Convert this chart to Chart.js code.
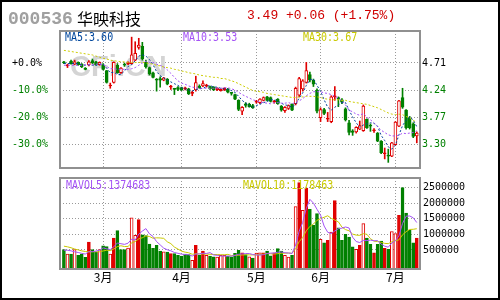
<!DOCTYPE html>
<html>
<head>
<meta charset="utf-8">
<title>000536 华映科技</title>
<script src="https://cdn.jsdelivr.net/npm/chart.js@4.4.1/dist/chart.umd.min.js"></script>
<style>
  html, body { margin: 0; padding: 0; background: #fff; }
  #box { position: relative; width: 500px; height: 300px; overflow: hidden; background: #fff; }
  #box canvas { position: absolute; left: 0; top: 0; }
  #edge { position: absolute; left: 0; top: 0; width: 496px; height: 296px; border: 2px solid #000; }
  .txt { position: absolute; white-space: nowrap; line-height: 1; }
  .lbl { font-family: "DejaVu Sans Mono", monospace; font-size: 10px; transform: scaleY(1.15); transform-origin: 0 0; }
</style>
</head>
<body>
<div id="box">
  <canvas id="kline" width="500" height="300"></canvas>
  <canvas id="vol" width="500" height="300"></canvas>
  <div class="txt" style="left:8px;top:9px;font:bold 18px 'Liberation Mono',monospace;color:#a0a0a0">000536</div>
  <div class="txt" style="left:77px;top:6px;font:16px 'Noto Sans CJK SC',sans-serif;color:#000">华映科技</div>
  <div class="txt" style="left:247px;top:8px;font:13px 'Liberation Mono',monospace;color:#d00000">3.49 +0.06 (+1.75%)</div>
  <div class="txt lbl" style="left:65px;top:32px;color:#00479d">MA5:3.60</div>
  <div class="txt lbl" style="left:183px;top:32px;color:#a452f5">MA10:3.53</div>
  <div class="txt lbl" style="left:303px;top:32px;color:#c9c900">MA30:3.67</div>
  <div class="txt lbl" style="left:66px;top:180px;color:#a452f5">MAVOL5:1374683</div>
  <div class="txt lbl" style="left:243px;top:180px;color:#c9c900">MAVOL10:1178463</div>
  <div id="edge"></div>
</div>
<script>
// month starts (trading day index) and their labels
const monthTicks = [11, 33, 54, 72, 93];
const monthLabels = ["3月", "4月", "5月", "6月", "7月"];

// daily prices
const opens = [4.73,4.66,4.74,4.69,4.72,4.69,4.62,4.68,4.75,4.73,
  4.68,4.68,4.58,4.31,4.37,4.67,4.54,4.68,4.70,4.70,
  4.76,4.98,5.00,4.72,4.63,4.54,4.42,4.44,4.41,4.43,
  4.29,4.26,4.28,4.28,4.26,4.26,4.18,4.24,4.31,4.31,
  4.31,4.30,4.29,4.24,4.23,4.24,4.25,4.19,4.16,4.06,
  3.87,4.00,3.99,3.97,4.03,4.02,4.06,4.12,4.11,4.03,
  4.08,3.96,3.88,3.92,3.99,4.00,4.15,4.26,4.37,4.51,
  4.41,4.24,3.76,3.90,3.73,3.69,4.12,4.11,4.07,3.91,
  3.67,3.53,3.51,3.56,3.53,3.73,3.63,3.53,3.49,3.35,
  3.13,3.10,3.09,3.29,3.61,4.11,3.89,3.75,3.65,3.44];
const highs = [4.74,4.69,4.76,4.76,4.73,4.70,4.63,4.75,4.78,4.74,
  4.73,4.70,4.58,4.36,4.73,4.70,4.63,4.71,4.73,5.16,
  5.08,5.14,5.07,4.76,4.64,4.55,4.44,4.47,4.46,4.44,
  4.32,4.27,4.30,4.29,4.29,4.27,4.22,4.48,4.33,4.40,
  4.34,4.31,4.30,4.28,4.26,4.28,4.27,4.20,4.17,4.07,
  3.95,4.02,4.01,3.99,4.06,4.09,4.12,4.13,4.12,4.06,
  4.09,3.97,3.95,3.98,4.00,4.29,4.46,4.42,4.72,4.55,
  4.43,4.26,3.93,3.92,3.85,4.14,4.30,4.12,4.09,3.93,
  3.71,3.55,3.60,3.70,3.98,3.74,3.65,3.57,3.50,3.36,
  3.23,3.21,3.33,3.69,4.06,4.27,3.90,3.78,3.67,3.51];
const lows = [4.70,4.63,4.69,4.68,4.67,4.63,4.59,4.66,4.70,4.67,
  4.67,4.59,4.36,4.27,4.36,4.53,4.53,4.65,4.68,4.69,
  4.75,4.95,4.76,4.62,4.50,4.45,4.22,4.29,4.40,4.33,
  4.25,4.16,4.23,4.23,4.24,4.16,4.14,4.22,4.27,4.30,
  4.29,4.25,4.23,4.23,4.22,4.23,4.19,4.15,4.07,3.88,
  3.81,3.94,3.94,3.92,4.01,4.00,4.05,4.05,4.03,4.01,
  3.99,3.87,3.85,3.90,3.88,3.98,4.12,4.22,4.36,4.38,
  4.30,3.84,3.69,3.81,3.69,3.67,4.06,3.95,4.00,3.70,
  3.46,3.45,3.49,3.55,3.52,3.57,3.52,3.50,3.34,3.13,
  3.04,2.98,3.08,3.28,3.60,3.92,3.56,3.56,3.41,3.32];
const closes = [4.71,4.67,4.70,4.73,4.68,4.64,4.60,4.73,4.71,4.68,
  4.72,4.60,4.37,4.32,4.72,4.54,4.62,4.67,4.71,4.85,
  4.88,5.02,4.78,4.64,4.52,4.46,4.41,4.41,4.45,4.34,
  4.30,4.25,4.25,4.24,4.27,4.17,4.19,4.37,4.28,4.35,
  4.32,4.26,4.24,4.27,4.25,4.27,4.20,4.18,4.08,3.90,
  3.94,3.97,3.95,3.93,4.04,4.08,4.11,4.06,4.04,4.04,
  4.00,3.89,3.94,3.97,3.89,4.27,4.44,4.40,4.58,4.41,
  4.34,3.87,3.90,3.83,3.74,4.12,4.13,4.08,4.03,3.72,
  3.50,3.50,3.59,3.62,3.96,3.58,3.61,3.54,3.35,3.15,
  3.14,3.09,3.32,3.68,4.05,3.94,3.58,3.58,3.43,3.49];

// moving averages as drawn
const ma5 = [4.70,4.70,4.70,4.70,4.70,4.68,4.67,4.68,4.67,4.67,
  4.69,4.69,4.62,4.54,4.55,4.51,4.51,4.57,4.65,4.68,
  4.75,4.83,4.85,4.83,4.77,4.68,4.56,4.49,4.45,4.41,
  4.38,4.35,4.32,4.28,4.26,4.24,4.22,4.25,4.26,4.27,
  4.30,4.32,4.29,4.29,4.27,4.26,4.25,4.23,4.20,4.13,
  4.06,4.01,3.97,3.94,3.97,3.99,4.02,4.04,4.07,4.07,
  4.05,4.01,3.98,3.97,3.94,3.99,4.10,4.19,4.32,4.42,
  4.43,4.32,4.22,4.07,3.94,3.89,3.94,3.98,4.02,4.02,
  3.89,3.77,3.67,3.59,3.63,3.65,3.67,3.66,3.61,3.45,
  3.36,3.25,3.21,3.28,3.46,3.62,3.71,3.77,3.72,3.60];
const ma10 = [4.67,4.67,4.67,4.67,4.67,4.67,4.68,4.68,4.68,4.69,
  4.69,4.68,4.65,4.61,4.61,4.60,4.60,4.60,4.60,4.61,
  4.63,4.67,4.71,4.74,4.72,4.72,4.69,4.67,4.64,4.59,
  4.53,4.46,4.40,4.36,4.34,4.31,4.29,4.28,4.27,4.27,
  4.27,4.27,4.27,4.27,4.27,4.28,4.28,4.26,4.24,4.20,
  4.16,4.13,4.10,4.07,4.05,4.03,4.02,4.01,4.00,4.02,
  4.02,4.01,4.01,4.02,4.00,4.02,4.05,4.09,4.14,4.18,
  4.21,4.21,4.21,4.19,4.18,4.16,4.13,4.10,4.05,3.98,
  3.89,3.86,3.82,3.80,3.83,3.77,3.72,3.67,3.60,3.54,
  3.50,3.46,3.44,3.44,3.45,3.49,3.48,3.49,3.50,3.53];
const ma30 = [4.93,4.92,4.91,4.90,4.89,4.88,4.87,4.86,4.85,4.83,
  4.81,4.79,4.78,4.76,4.75,4.74,4.73,4.73,4.72,4.72,
  4.72,4.72,4.72,4.71,4.70,4.69,4.67,4.66,4.64,4.63,
  4.62,4.60,4.59,4.57,4.56,4.54,4.53,4.52,4.50,4.49,
  4.48,4.47,4.46,4.46,4.44,4.44,4.42,4.40,4.38,4.35,
  4.32,4.29,4.26,4.23,4.22,4.21,4.20,4.18,4.17,4.16,
  4.15,4.14,4.13,4.12,4.11,4.11,4.12,4.12,4.13,4.13,
  4.13,4.12,4.11,4.09,4.08,4.07,4.07,4.07,4.06,4.06,
  4.04,4.03,4.02,4.01,4.00,3.99,3.97,3.95,3.93,3.90,
  3.87,3.84,3.82,3.81,3.82,3.81,3.78,3.75,3.71,3.68];

// volume (shares) and bar kind: g = down, r = up hollow, R = up filled
const volumes = [510000,370000,370000,510000,330000,370000,260000,750000,510000,430000,
  510000,630000,610000,370000,880000,1120000,510000,510000,560000,1530000,
  970000,1470000,980000,960000,690000,550000,650000,460000,440000,430000,
  380000,380000,330000,300000,370000,350000,170000,650000,330000,460000,
  330000,300000,280000,270000,330000,330000,300000,280000,390000,490000,
  410000,350000,280000,240000,400000,410000,410000,460000,310000,410000,
  540000,460000,330000,270000,330000,1890000,2650000,1770000,2480000,1800000,
  1290000,1660000,840000,730000,810000,1070000,2080000,1210000,810000,1000000,
  910000,600000,520000,650000,1340000,880000,680000,410000,680000,780000,
  550000,520000,1090000,1020000,1610000,2490000,1680000,1130000,730000,880000];
const volKind = ("grgrgggRgg" + "rggrRgggrr" + "rRggggggrg" + "RgggggrRgR" + "rggrrrgggg" +
  "RgrgrrRggR" + "ggrrgrRrRg" + "ggrgRrRggg" + "ggrRrggRgg" + "RgrrRggggR").split("");
const mavol5 = [490000,490000,470000,440000,418000,390000,368000,444000,444000,464000,
  492000,566000,538000,510000,600000,722000,698000,678000,716000,846000,
  816000,1008000,1102000,1182000,1014000,930000,766000,662000,558000,506000,
  472000,418000,392000,364000,352000,346000,304000,368000,374000,392000,
  388000,414000,340000,328000,302000,302000,302000,302000,326000,358000,
  374000,384000,384000,354000,336000,336000,348000,384000,398000,400000,
  426000,436000,410000,402000,386000,656000,1094000,1382000,1824000,2118000,
  1998000,1800000,1614000,1264000,1066000,1022000,1106000,1180000,1196000,1234000,
  1202000,906000,768000,736000,804000,798000,814000,792000,798000,686000,
  620000,588000,724000,792000,958000,1346000,1578000,1586000,1528000,1375000];
const mavol10 = [620000,600000,570000,530000,500000,470000,450000,440000,440000,441000,
  441000,467000,491000,477000,532000,607000,632000,608000,613000,723000,
  769000,853000,890000,949000,930000,873000,887000,882000,870000,760000,
  701000,592000,527000,461000,429000,409000,361000,380000,369000,372000,
  367000,359000,354000,351000,347000,345000,358000,321000,327000,330000,
  338000,343000,343000,340000,347000,355000,366000,384000,376000,368000,
  381000,392000,397000,400000,393000,541000,765000,896000,1113000,1252000,
  1327000,1447000,1498000,1544000,1592000,1510000,1453000,1397000,1230000,1150000,
  1112000,1006000,974000,966000,1019000,1000000,860000,780000,767000,745000,
  709000,701000,758000,795000,822000,983000,1083000,1155000,1160000,1178000];

// axis ticks
const priceTicks = [4.71, 4.239, 3.768, 3.297];
const pctTicks = [0, -10, -20, -30];
const volTicks = [500000, 1000000, 1500000, 2000000, 2500000];

const BASE = 4.71;          // first close = 0%
const P_MIN = 2.882, P_MAX = 5.267;
const V_MIN = -110000, V_MAX = 2800000;

const RED = "#e00000", GREEN = "#008000", GRID = "#999";
const tickFont = { family: "'DejaVu Sans Mono', monospace", size: 10 };

const pts = arr => arr.map((v, i) => ({ x: i, y: v }));

const wickColor = closes.map((c, i) => c > opens[i] ? RED : GREEN);
const bodyFill = closes.map((c, i) => c > opens[i] ? (c - opens[i] < 0.03 ? RED : "#fff") : GREEN);
const volFill = volKind.map(k => k === "g" ? GREEN : (k === "R" ? RED : "#fff"));
const volEdge = volKind.map(k => k === "g" ? GREEN : RED);

const frame = {
  id: "frame",
  afterDraw(chart) {
    const { left, top, right, bottom } = chart.chartArea;
    const c = chart.ctx;
    c.save();
    c.strokeStyle = "#909090";
    c.lineWidth = 2;
    c.strokeRect(left, top, right - left, bottom - top);
    c.restore();
  }
};

const watermark = {
  id: "watermark",
  beforeDatasetsDraw(chart) {
    const c = chart.ctx;
    c.save();
    c.font = "bold 29px 'Liberation Sans', Arial, sans-serif";
    c.fillStyle = "#d4d4d4";
    c.fillText("CFi.CN", 70, 76);
    c.restore();
  }
};

function monthAxis(showLabels) {
  return {
    type: "linear", min: -1.1, max: 99.9, offset: false,
    grid: { color: GRID, drawTicks: false, offset: false },
    border: { display: false, dash: [1, 2] },
    afterBuildTicks: s => { s.ticks = monthTicks.map(v => ({ value: v })); },
    ticks: {
      display: showLabels, autoSkip: false, maxRotation: 0, padding: 1, color: "#000",
      font: { family: "'Noto Sans CJK SC', sans-serif", size: 12 },
      callback: (v, k) => monthLabels[k]
    },
    afterFit: s => { s.height = showLabels ? 31 : 0; }
  };
}

const line = (arr, color, dashed) => ({
  type: "line", data: pts(arr), yAxisID: "y", borderColor: color, borderWidth: 1,
  borderDash: dashed ? [2, 2] : [], pointRadius: 0, tension: 0, order: 0
});

new Chart(document.getElementById("kline"), {
  type: "bar",
  data: {
    datasets: [
      { data: closes.map((c, i) => ({ x: i, y: [lows[i], highs[i]] })), yAxisID: "y",
        backgroundColor: wickColor, barThickness: 1, grouped: false, order: 4 },
      { data: closes.map((c, i) => ({ x: i, y: [Math.min(opens[i], c), Math.max(opens[i], c)] })), yAxisID: "y",
        backgroundColor: bodyFill, borderColor: wickColor, borderWidth: 1, borderSkipped: false,
        barThickness: 3, minBarLength: 1, grouped: false, order: 3 },
      line(ma30, "#cccc00", true),
      line(ma10, "#a452f5", true),
      line(ma5, "#00409a", true)
    ]
  },
  options: {
    responsive: false, animation: false, events: [],
    layout: { padding: { left: 12, right: 0, top: 31, bottom: 132 } },
    plugins: { legend: { display: false }, tooltip: { enabled: false } },
    scales: {
      x: monthAxis(false),
      y: {
        type: "linear", position: "right", min: P_MIN, max: P_MAX,
        grid: { color: GRID, drawTicks: false },
        border: { display: false, dash: [1, 2] },
        afterBuildTicks: s => { s.ticks = priceTicks.map(v => ({ value: v })); },
        ticks: {
          padding: 2, font: tickFont,
          color: c => c.index === 0 ? "#000" : GREEN,
          callback: v => v.toFixed(2)
        },
        afterFit: s => { s.width = 80; }
      },
      pct: {
        type: "linear", position: "left",
        min: (P_MIN / BASE - 1) * 100, max: (P_MAX / BASE - 1) * 100,
        grid: { display: false }, border: { display: false },
        afterBuildTicks: s => { s.ticks = pctTicks.map(v => ({ value: v })); },
        ticks: {
          crossAlign: "far", font: tickFont,
          color: c => c.tick.value === 0 ? "#000" : GREEN,
          callback: v => (v === 0 ? "+" : "") + v.toFixed(1) + "%"
        },
        afterFit: s => { s.width = 48; }
      }
    }
  },
  plugins: [watermark, frame]
});

new Chart(document.getElementById("vol"), {
  type: "bar",
  data: {
    datasets: [
      { data: pts(volumes), base: V_MIN, backgroundColor: volFill, borderColor: volEdge,
        borderWidth: 1, borderSkipped: false, barThickness: 3, grouped: false, order: 2 },
      Object.assign(line(mavol10, "#c9c900", false), { order: 1 }),
      line(mavol5, "#a452f5", false)
    ]
  },
  options: {
    responsive: false, animation: false, events: [],
    layout: { padding: { left: 60, right: 0, top: 178, bottom: 0 } },
    plugins: { legend: { display: false }, tooltip: { enabled: false } },
    scales: {
      x: monthAxis(true),
      y: {
        type: "linear", position: "right", min: V_MIN, max: V_MAX,
        grid: { color: GRID, drawTicks: false },
        border: { display: false, dash: [1, 2] },
        afterBuildTicks: s => { s.ticks = volTicks.map(v => ({ value: v })); },
        ticks: { padding: 3, font: tickFont, color: "#000", callback: v => String(v) },
        afterFit: s => { s.width = 80; }
      }
    }
  },
  plugins: [frame]
});
</script>
</body>
</html>
